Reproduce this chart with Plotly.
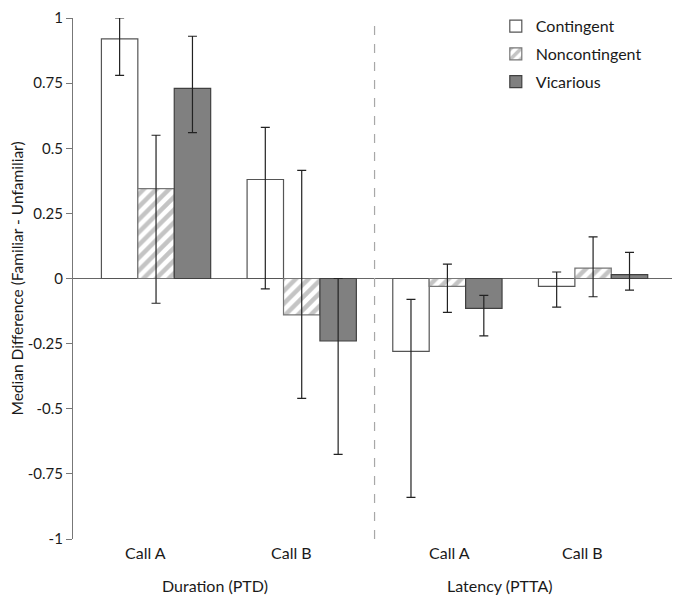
import plotly.graph_objects as go

categories = ["Call A", "Call B", "Call A", "Call B"]
group_labels = ["Duration (PTD)", "Latency (PTTA)"]
series_names = ["Contingent", "Noncontingent", "Vicarious"]

contingent = [0.92, 0.38, -0.28, -0.03]
contingent_hi = [1.00, 0.58, -0.08, 0.025]
contingent_lo = [0.78, -0.04, -0.84, -0.11]

noncontingent = [0.345, -0.14, -0.03, 0.04]
noncontingent_hi = [0.55, 0.415, 0.055, 0.16]
noncontingent_lo = [-0.095, -0.46, -0.13, -0.07]

vicarious = [0.73, -0.24, -0.115, 0.015]
vicarious_hi = [0.93, 0.0, -0.065, 0.10]
vicarious_lo = [0.56, -0.675, -0.22, -0.045]

y_ticks = [1, 0.75, 0.5, 0.25, 0, -0.25, -0.5, -0.75, -1]
y_ticktext = ["1", "0.75", "0.5", "0.25", "0", "-0.25", "-0.5", "-0.75", "-1"]

FONT = "Lato"
x_pos = list(range(len(categories)))

def err(vals, hi, lo, color="#222222"):
    return dict(type="data", symmetric=False,
                array=[h - v for h, v in zip(hi, vals)],
                arrayminus=[v - l for v, l in zip(vals, lo)],
                color=color, thickness=1.2, width=4.5)

fig = go.Figure()
fig.add_trace(go.Bar(
    x=x_pos, y=contingent, name=series_names[0], legendgroup="a",
    marker=dict(color="white", line=dict(color="#555555", width=1.2)),
    error_y=err(contingent, contingent_hi, contingent_lo)))
fig.add_trace(go.Bar(
    x=x_pos, y=noncontingent, name=series_names[1], legendgroup="b",
    marker=dict(color="white", line=dict(color="#777777", width=1.2),
                pattern=dict(shape="/", fgcolor="#8a8a8a", bgcolor="white",
                             size=9, solidity=0.5)),
    error_y=err(noncontingent, noncontingent_hi, noncontingent_lo)))
fig.add_trace(go.Bar(
    x=x_pos, y=vicarious, name=series_names[2], legendgroup="c",
    marker=dict(color="#808080", line=dict(color="#404040", width=1.2)),
    error_y=err(vicarious, vicarious_hi, vicarious_lo)))

annotations = []
cat_shift = [-10.5, -10, 2, -10.5]
for i, c in enumerate(categories):
    annotations.append(dict(x=x_pos[i], y=0, xref="x", yref="paper", text=c,
                            showarrow=False, yanchor="middle", yshift=-13,
                            xshift=cat_shift[i],
                            font=dict(family=FONT, size=16, color="#1a1a1a")))
group_x = [0.405, 2.364]
for gx, g in zip(group_x, group_labels):
    annotations.append(dict(x=gx, y=0, xref="x", yref="paper", text=g,
                            showarrow=False, yanchor="middle", yshift=-46,
                            font=dict(family=FONT, size=16, color="#1a1a1a")))
annotations.append(dict(x=0, y=0.5, xref="paper", yref="paper",
                        text="Median Difference (Familiar - Unfamiliar)",
                        textangle=-90, showarrow=False, xanchor="center",
                        yanchor="middle", xshift=-57,
                        font=dict(family=FONT, size=15.5, color="#1a1a1a")))

fig.update_layout(
    width=672, height=590,
    margin=dict(l=65, r=3, t=10, b=59, autoexpand=False),
    paper_bgcolor="white", plot_bgcolor="white",
    barmode="group", bargap=0.25, bargroupgap=0,
    font=dict(family=FONT, size=15, color="#1a1a1a"),
    showlegend=True,
    legend=dict(x=0.70, y=1.017, xanchor="left", yanchor="top",
                bgcolor="rgba(0,0,0,0)", font=dict(family=FONT, size=16),
                tracegroupgap=4),
    xaxis=dict(range=[-0.57, 3.576], showticklabels=False, showline=False,
               ticks="", showgrid=False, zeroline=False),
    yaxis=dict(range=[-1, 1], tickvals=y_ticks, ticktext=y_ticktext,
               ticks="outside", ticklen=6, tickcolor="#777777", tickwidth=1,
               showline=True, linecolor="#777777", linewidth=1.2,
               showgrid=False, zeroline=True, zerolinecolor="#666666",
               zerolinewidth=1.2, ticklabeloverflow="allow",
               tickfont=dict(family=FONT, size=15, color="#1a1a1a")),
    annotations=annotations,
    shapes=[dict(type="line", xref="x", yref="paper", x0=1.5, x1=1.5,
                 y0=0, y1=1, line=dict(color="#a8a8a8", width=1.2, dash="dash"))],
)

fig.write_html("out.html")
